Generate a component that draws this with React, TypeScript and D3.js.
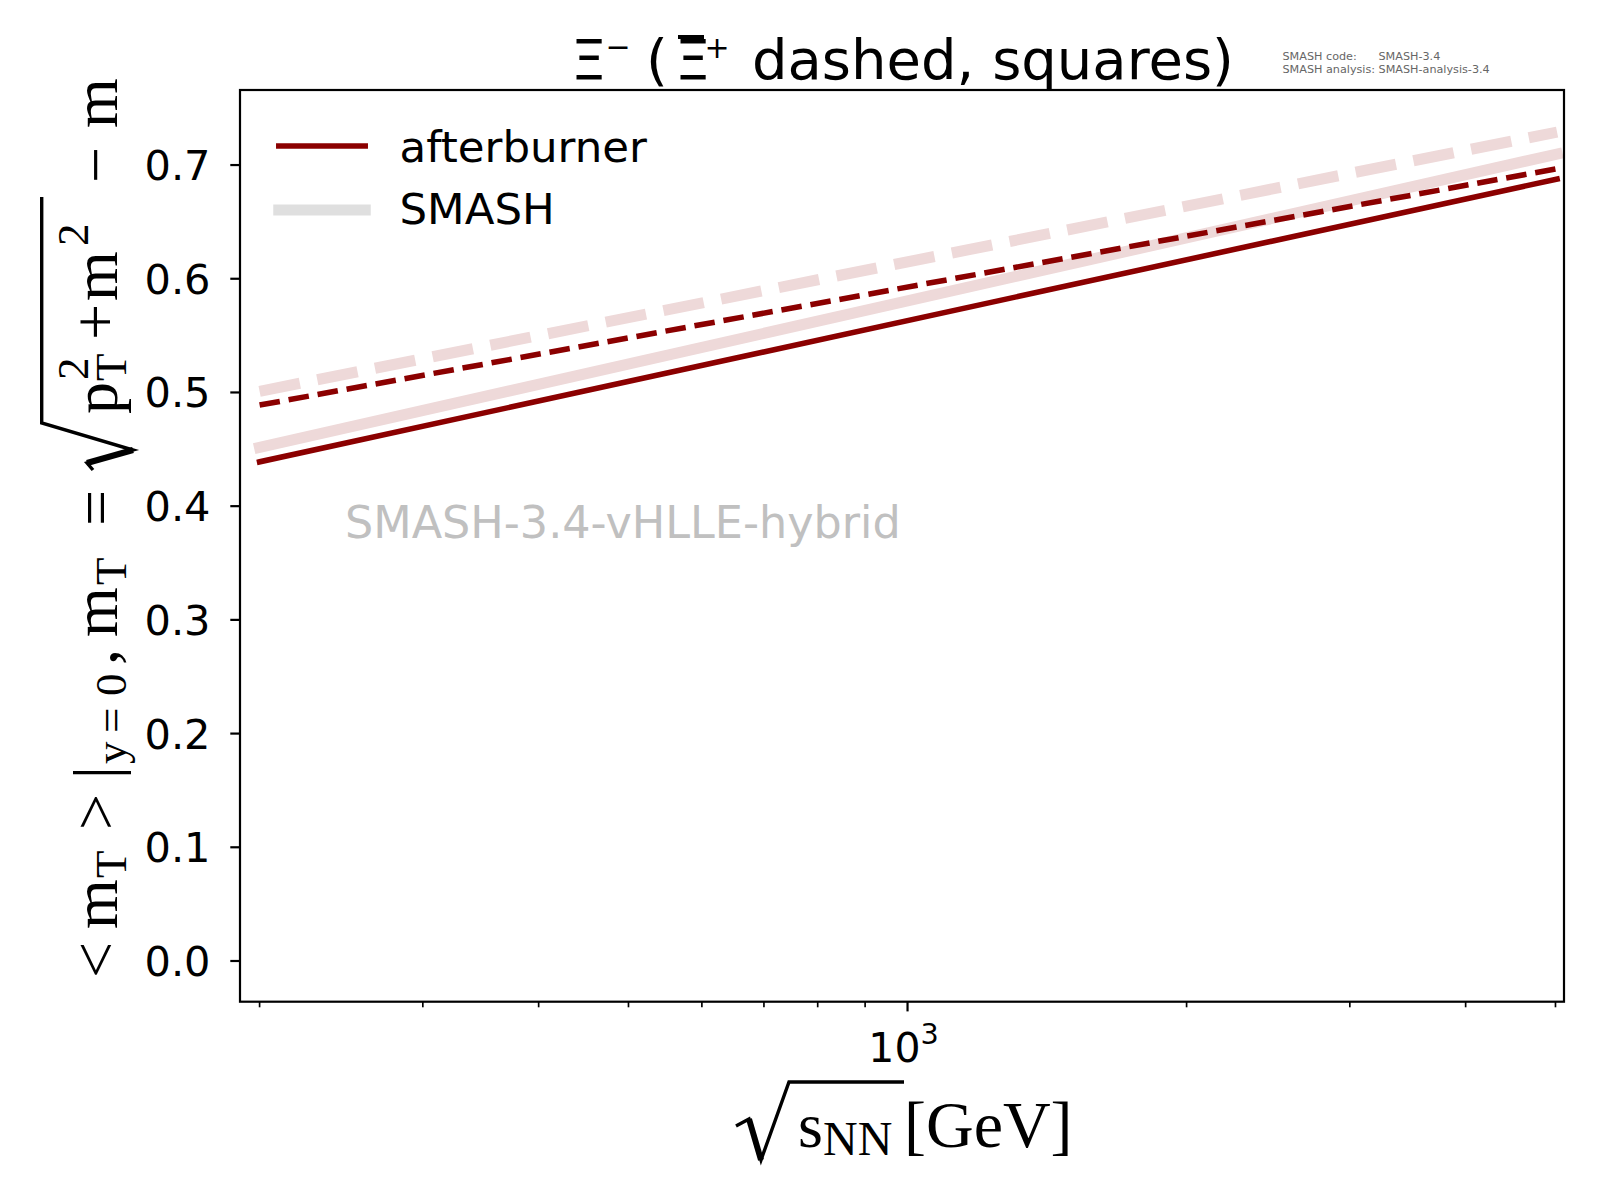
import React from 'react';
import * as d3 from 'd3';

// ---- data ----
const energies = [200, 5020];
const afterburnerXiMinus = [0.439, 0.6877];
const afterburnerXiPlusBar = [0.4889, 0.6968];
const smashXiMinus = [0.4517, 0.7097];
const smashXiPlusBar = [0.501, 0.729];
const yTickValues = [0, 0.1, 0.2, 0.3, 0.4, 0.5, 0.6, 0.7];
const xMajorTickValues = [1000];
const xMinorTickValues = [200, 300, 400, 500, 600, 700, 800, 900, 2000, 3000, 4000, 5000];
const legendLabels = ['afterburner', 'SMASH'];

const W = 1600;
const H = 1200;
const L = 240, R = 1564, T = 90, B = 1001.7;

const DARKRED = '#8b0000';
const SMASH_COL = 'rgb(238,217,217)';
const LEGEND_GREY = '#dfdfdf';
const SANS = 'DejaVu Sans, sans-serif';
const SERIF = 'Liberation Serif, Times New Roman, serif';

export default function App() {
  const x = d3.scaleLog().domain([190.5, 5107]).range([L, R]);
  const y = d3.scaleLinear().domain([-0.0358, 0.766]).range([B, T]);
  const line = d3
    .line<number>()
    .x((_, i) => x(energies[i]))
    .y((d) => y(d));

  const lw = 5.56;
  const lwS = 11.1;
  const series = [
    { v: smashXiMinus, color: SMASH_COL, w: lwS, dash: null },
    { v: smashXiPlusBar, color: SMASH_COL, w: lwS, dash: `${3.7 * lwS} ${1.6 * lwS}` },
    { v: afterburnerXiMinus, color: DARKRED, w: lw, dash: null },
    { v: afterburnerXiPlusBar, color: DARKRED, w: lw, dash: `${3.7 * lw} ${1.6 * lw}` },
  ];

  // y label pieces (local coords along rotated baseline)
  const yl: [string, number, number, number][] = [
    ['<', -3, 0, 64],
    ['m', 46, 0, 64],
    ['T', 97, 9, 45],
    ['>', 145, 0, 64],
    ['|', 196, 0, 64],
    ['y', 211, 9, 45],
    ['=', 242, 9, 45],
    ['0', 279, 9, 45],
    [',', 310, 0, 64],
    ['m', 338, 0, 64],
    ['T', 390, 9, 45],
    ['=', 449, 0, 64],
    ['p', 561, 0, 64],
    ['2', 595, -29, 45],
    ['T', 594, 9, 45],
    ['+', 635, 0, 64],
    ['m', 674, 0, 64],
    ['2', 729, -29, 45],
    ['\u2212', 792, 0, 64],
    ['m', 847, 0, 64],
  ];

  return (
    <svg
      width={W}
      height={H}
      viewBox={`0 0 ${W} ${H}`}
      style={{ position: 'absolute', left: 0, top: 0, background: '#fff' }}
    >
      <rect x={0} y={0} width={W} height={H} fill="#fff" />
      <defs>
        <clipPath id="plotclip">
          <rect x={L} y={T} width={R - L} height={B - T} />
        </clipPath>
      </defs>

      {/* watermark */}
      <text x={345} y={537.5} fontFamily={SANS} fontSize={44.5} fill="#c0c0c0">
        SMASH-3.4-vHLLE-hybrid
      </text>

      {/* lines */}
      <g clipPath="url(#plotclip)">
        {series.map((s, i) => (
          <path
            key={i}
            d={line(s.v) || ''}
            fill="none"
            stroke={s.color}
            strokeWidth={s.w}
            strokeDasharray={s.dash || undefined}
            strokeLinecap={s.dash ? 'butt' : 'square'}
          />
        ))}
      </g>

      {/* frame */}
      <rect x={L} y={T} width={R - L} height={B - T} fill="none" stroke="#000" strokeWidth={2.2} />

      {/* y ticks */}
      {yTickValues.map((v) => (
        <g key={v}>
          <line x1={L} x2={L - 9.7} y1={y(v)} y2={y(v)} stroke="#000" strokeWidth={2.2} />
          <text
            x={210.5}
            y={y(v) + 15}
            textAnchor="end"
            fontFamily={SANS}
            fontSize={41.5}
            fill="#000"
          >
            {v.toFixed(1)}
          </text>
        </g>
      ))}

      {/* x ticks */}
      {xMinorTickValues.map((v) => (
        <line key={v} x1={x(v)} x2={x(v)} y1={B} y2={B + 5.6} stroke="#000" strokeWidth={1.67} />
      ))}
      {xMajorTickValues.map((v) => (
        <g key={v}>
          <line x1={x(v)} x2={x(v)} y1={B} y2={B + 9.7} stroke="#000" strokeWidth={2.2} />
          <text x={x(v) - 4} y={1062} textAnchor="middle" fontFamily={SANS} fontSize={41} fill="#000">
            10
            <tspan fontSize={28.7} dy={-18}>
              {Math.round(Math.log10(v))}
            </tspan>
          </text>
        </g>
      ))}

      {/* legend */}
      <line x1={278.8} x2={365.2} y1={146} y2={146} stroke={DARKRED} strokeWidth={lw} strokeLinecap="square" />
      <line x1={278.8} x2={365.2} y1={210} y2={210} stroke={LEGEND_GREY} strokeWidth={lwS} strokeLinecap="square" />
      <text x={399.5} y={162} fontFamily={SANS} fontSize={43.5} fill="#000">
        {legendLabels[0]}
      </text>
      <text x={399.5} y={224} fontFamily={SANS} fontSize={43.5} fill="#000">
        {legendLabels[1]}
      </text>

      {/* title */}
      <g fontFamily={SANS} fill="#000">
        <text x={571} y={79} fontSize={56}>
          {'\u039E'}
          <tspan fontSize={30} dx={-1} dy={-22}>
            {'\u2212'}
          </tspan>
        </text>
        <text x={646} y={79} fontSize={56}>
          (
        </text>
        <text x={675} y={79} fontSize={56}>
          {'\u039E'}
          <tspan fontSize={30} dx={-6} dy={-21}>
            +
          </tspan>
        </text>
        <rect x={678} y={35} width={26} height={4} />
        <text x={752} y={79} fontSize={56}>
          dashed, squares)
        </text>
      </g>

      {/* version info */}
      <g fontFamily={SANS} fontSize={11.2} fill="#666">
        <text x={1282.5} y={59.5}>SMASH code:</text>
        <text x={1378.5} y={59.5}>SMASH-3.4</text>
        <text x={1282.5} y={72.5}>SMASH analysis: SMASH-analysis-3.4</text>
      </g>

      {/* x label */}
      <g fontFamily={SERIF} fill="#000">
        <path d="M736,1126 L749,1119 L761,1160 L789,1082 L904,1082" fill="none" stroke="#000" strokeWidth={3.4} strokeLinejoin="miter" />
        <path d="M749,1119 L761,1160" fill="none" stroke="#000" strokeWidth={6} />
        <text x={798} y={1147} fontSize={64}>s</text>
        <text x={823} y={1155} fontSize={48}>NN</text>
        <text x={904} y={1147} fontSize={66}>[GeV]</text>
      </g>

      {/* y label */}
      <g transform="translate(117,975) rotate(-90)" fontFamily={SERIF} fill="#000">
        {yl.map(([t, lx, ly, fs], i) => (
          <text key={i} x={lx} y={ly} fontSize={fs}>
            {t}
          </text>
        ))}
        <path d="M505,-24 L512,-30 L525,16 L552,-75.3 L778,-75.3" fill="none" stroke="#000" strokeWidth={3.4} />
        <path d="M512,-30 L525,16" fill="none" stroke="#000" strokeWidth={6} />
      </g>
    </svg>
  );
}
